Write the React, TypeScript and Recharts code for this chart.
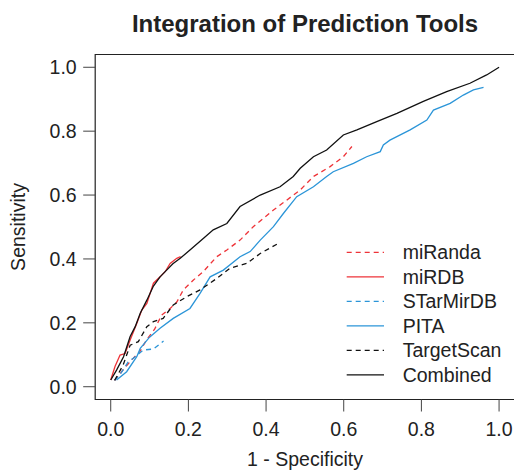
import React from 'react';
import { LineChart, Line, XAxis, YAxis, ReferenceArea } from 'recharts';

// ROC curves (x = 1 - specificity, y = sensitivity)
const miRandaFpr = [0.01, 0.03, 0.054, 0.075, 0.093, 0.113, 0.131, 0.153, 0.17, 0.187, 0.213, 0.238, 0.273, 0.299, 0.333, 0.367, 0.419, 0.453, 0.488, 0.522, 0.565, 0.599, 0.621];
const miRandaTpr = [0.02, 0.05, 0.084, 0.11, 0.148, 0.18, 0.224, 0.245, 0.265, 0.303, 0.334, 0.36, 0.407, 0.428, 0.459, 0.501, 0.553, 0.584, 0.616, 0.658, 0.689, 0.72, 0.752];

const miRDBFpr = [0, 0.011, 0.024, 0.037, 0.05, 0.067, 0.08, 0.093, 0.11, 0.127, 0.14, 0.153, 0.17, 0.18];
const miRDBTpr = [0.021, 0.063, 0.099, 0.104, 0.146, 0.198, 0.24, 0.261, 0.324, 0.344, 0.36, 0.386, 0.402, 0.407];

const starMirFpr = [0.01, 0.025, 0.045, 0.058, 0.084, 0.11, 0.136];
const starMirTpr = [0.02, 0.04, 0.078, 0.089, 0.115, 0.118, 0.143];

const pitaFpr = [0.015, 0.041, 0.067, 0.076, 0.1, 0.127, 0.161, 0.204, 0.23, 0.256, 0.29, 0.333, 0.359, 0.385, 0.419, 0.445, 0.479, 0.522, 0.556, 0.573, 0.625, 0.659, 0.694, 0.702, 0.719, 0.771, 0.814, 0.831, 0.874, 0.908, 0.934, 0.96];
const pitaTpr = [0.021, 0.047, 0.094, 0.12, 0.155, 0.183, 0.214, 0.245, 0.292, 0.344, 0.365, 0.407, 0.423, 0.459, 0.501, 0.543, 0.595, 0.626, 0.658, 0.673, 0.699, 0.72, 0.736, 0.757, 0.772, 0.804, 0.835, 0.866, 0.887, 0.913, 0.929, 0.937];

const targetScanFpr = [0.01, 0.032, 0.05, 0.071, 0.093, 0.11, 0.135, 0.161, 0.196, 0.23, 0.273, 0.307, 0.35, 0.385, 0.432];
const targetScanTpr = [0.02, 0.068, 0.13, 0.141, 0.188, 0.204, 0.214, 0.256, 0.282, 0.303, 0.339, 0.371, 0.386, 0.417, 0.449];

const combinedFpr = [0, 0.015, 0.033, 0.05, 0.063, 0.076, 0.093, 0.11, 0.127, 0.144, 0.16, 0.179, 0.204, 0.239, 0.264, 0.299, 0.333, 0.385, 0.436, 0.47, 0.488, 0.522, 0.556, 0.599, 0.634, 0.685, 0.737, 0.805, 0.865, 0.925, 0.968, 1.0];
const combinedTpr = [0.021, 0.052, 0.094, 0.157, 0.188, 0.23, 0.271, 0.315, 0.344, 0.365, 0.385, 0.402, 0.428, 0.465, 0.491, 0.511, 0.564, 0.6, 0.626, 0.658, 0.684, 0.72, 0.741, 0.788, 0.804, 0.83, 0.856, 0.893, 0.924, 0.95, 0.976, 1.0];

const axisTicks = [0, 0.2, 0.4, 0.6, 0.8, 1.0];

const RED = '#ee3338';
const BLUE = '#2b95d8';
const BLACK = '#111111';
const DASH = '5 4';
const FONT = '"Liberation Sans", Arial, Helvetica, sans-serif';

const zip = (xs: number[], ys: number[]) => xs.map((x, i) => ({ x, y: ys[i] }));

const series = [
    { name: 'miRanda', data: zip(miRandaFpr, miRandaTpr), color: RED, dash: DASH },
    { name: 'miRDB', data: zip(miRDBFpr, miRDBTpr), color: RED, dash: undefined },
    { name: 'STarMirDB', data: zip(starMirFpr, starMirTpr), color: BLUE, dash: DASH },
    { name: 'PITA', data: zip(pitaFpr, pitaTpr), color: BLUE, dash: undefined },
    { name: 'TargetScan', data: zip(targetScanFpr, targetScanTpr), color: BLACK, dash: DASH },
    { name: 'Combined', data: zip(combinedFpr, combinedTpr), color: BLACK, dash: undefined },
];

const tickStyle = { fill: '#222', fontSize: 19.5, fontFamily: FONT };

const App: React.FC = () => {
    return (
        <div style={{ position: 'absolute', left: 0, top: 0, width: 514, height: 472, background: '#fff' }}>
            <LineChart width={514} height={472} margin={{ top: 54.5, right: -0.6, bottom: 0, left: 0 }}>
                <XAxis
                    type="number"
                    dataKey="x"
                    domain={[-0.04, 1.04]}
                    ticks={axisTicks}
                    tickFormatter={(v: number) => v.toFixed(1)}
                    height={72.5}
                    axisLine={false}
                    tickSize={12}
                    tickMargin={11}
                    tickLine={{ stroke: '#444' }}
                    tick={tickStyle}
                    allowDuplicatedCategory={false}
                />
                <YAxis
                    type="number"
                    dataKey="y"
                    domain={[-0.04, 1.04]}
                    ticks={axisTicks}
                    tickFormatter={(v: number) => v.toFixed(1)}
                    width={95.2}
                    axisLine={false}
                    tickSize={12}
                    tickMargin={6.5}
                    tickLine={{ stroke: '#444' }}
                    tick={tickStyle}
                />
                <ReferenceArea x1={-0.04} x2={1.04} y1={-0.04} y2={1.04} fill="none" stroke="#222" strokeWidth={1.2} />
                {series.map((s) => (
                    <Line
                        key={s.name}
                        name={s.name}
                        data={s.data}
                        dataKey="y"
                        type="linear"
                        stroke={s.color}
                        strokeWidth={1.3}
                        strokeDasharray={s.dash}
                        dot={false}
                        activeDot={false}
                        isAnimationActive={false}
                    />
                ))}
            </LineChart>
            <svg width={514} height={472} style={{ position: 'absolute', left: 0, top: 0, pointerEvents: 'none' }}>
                <text x={305} y={32} textAnchor="middle" fontFamily={FONT} fontSize={24} fontWeight="bold" fill="#222">
                    Integration of Prediction Tools
                </text>
                <text x={305} y={466} textAnchor="middle" fontFamily={FONT} fontSize={19.5} fill="#222">
                    1 - Specificity
                </text>
                <text
                    x={18.3}
                    y={227}
                    textAnchor="middle"
                    dominantBaseline="central"
                    transform="rotate(-90 18.3 227)"
                    fontFamily={FONT}
                    fontSize={19.5}
                    fill="#222"
                >
                    Sensitivity
                </text>
                {series.map((s, i) => {
                    const cy = 252.3 + i * 24.5;
                    return (
                        <g key={s.name}>
                            <line x1={346.7} x2={384} y1={cy} y2={cy} stroke={s.color} strokeWidth={1.3} strokeDasharray={s.dash} />
                            <text x={402.7} y={cy} dy="0.36em" fontFamily={FONT} fontSize={19.5} fill="#222">
                                {s.name}
                            </text>
                        </g>
                    );
                })}
            </svg>
        </div>
    );
};

export default App;
